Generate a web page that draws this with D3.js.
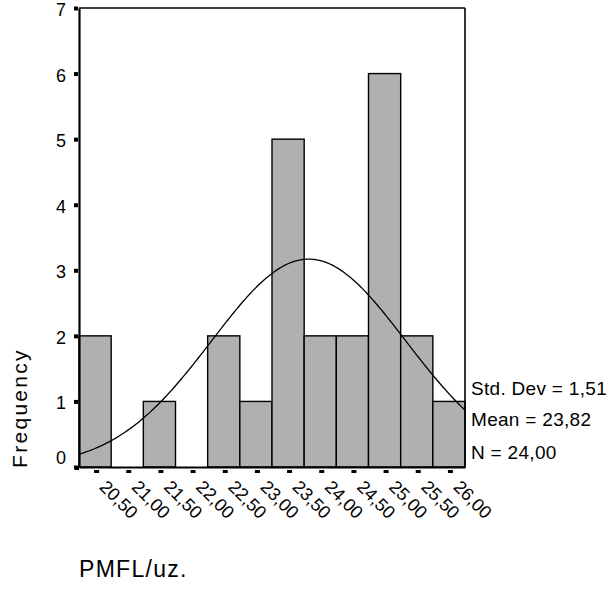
<!DOCTYPE html>
<html>
<head>
<meta charset="utf-8">
<script src="https://cdn.jsdelivr.net/npm/d3@7"></script>
<style>
  html, body { margin: 0; padding: 0; background: #fff; }
  svg { display: block; }
  text { font-family: Arial, "Liberation Sans", sans-serif; fill: #000; }
</style>
</head>
<body>
<div id="chart"></div>
<script>
// ---- data ----
const binCenters = [20.5, 21.0, 21.5, 22.0, 22.5, 23.0, 23.5, 24.0, 24.5, 25.0, 25.5, 26.0];
const binLabels = ["20,50", "21,00", "21,50", "22,00", "22,50", "23,00", "23,50", "24,00", "24,50", "25,00", "25,50", "26,00"];
const frequencies = [2, 0, 1, 0, 2, 1, 5, 2, 2, 6, 2, 1];
const yTicks = [0, 1, 2, 3, 4, 5, 6, 7];
const statLabels = ["Std. Dev = 1,51", "Mean = 23,82", "N = 24,00"];
const stdDev = 1.51;
const mean = 23.82;
const nCount = 24;
const binWidth = 0.5;

// ---- layout ----
const W = 613, H = 589;
const plot = { left: 79, right: 465, top: 8, bottom: 467 };
const FONT = "Arial, 'Liberation Sans', sans-serif";

const svg = d3.select("#chart").append("svg").attr("width", W).attr("height", H);

const x = d3.scaleLinear()
  .domain([binCenters[0] - binWidth / 2, binCenters[binCenters.length - 1] + binWidth / 2])
  .range([plot.left, plot.right]);
const y = d3.scaleLinear().domain([0, 7]).range([plot.bottom, plot.top]);

// bars
svg.append("g").selectAll("rect")
  .data(frequencies.map((f, i) => ({ f, c: binCenters[i] })).filter(d => d.f > 0))
  .join("rect")
  .attr("x", d => x(d.c - binWidth / 2))
  .attr("y", d => y(d.f))
  .attr("width", d => x(d.c + binWidth / 2) - x(d.c - binWidth / 2))
  .attr("height", d => y(0) - y(d.f))
  .attr("fill", "#b0b0b0")
  .attr("stroke", "#000")
  .attr("stroke-width", 1.4);

// normal curve fitted from the stats
const xs = d3.range(0, 201).map(i => x.domain()[0] + (x.domain()[1] - x.domain()[0]) * i / 200);
const pdf = v => nCount * binWidth / (stdDev * Math.sqrt(2 * Math.PI)) * Math.exp(-0.5 * Math.pow((v - mean) / stdDev, 2));
svg.append("path")
  .datum(xs)
  .attr("d", d3.line().x(d => x(d)).y(d => y(pdf(d))))
  .attr("fill", "none")
  .attr("stroke", "#000")
  .attr("stroke-width", 1.3);

// frame: top & right
svg.append("line").attr("x1", plot.left).attr("x2", plot.right).attr("y1", plot.top).attr("y2", plot.top)
  .attr("stroke", "#000").attr("stroke-width", 1.6);
svg.append("line").attr("x1", plot.right).attr("x2", plot.right).attr("y1", plot.top).attr("y2", plot.bottom)
  .attr("stroke", "#000").attr("stroke-width", 1.6);

// y axis
const yAxis = svg.append("g").attr("transform", `translate(${plot.left},0)`)
  .call(d3.axisLeft(y).tickValues(yTicks).tickSize(0).tickPadding(12).tickFormat(d3.format("d")));
yAxis.select(".domain").attr("stroke", "#000").attr("stroke-width", 2.2);
yAxis.selectAll(".tick text")
  .attr("font-size", 18)
  .attr("font-family", FONT)
  .attr("x", -13)
  .attr("dy", d => d === 0 ? "-0.22em" : "0.42em");
yAxis.selectAll(".tick").append("rect")
  .attr("x", -5).attr("y", -2).attr("width", 4).attr("height", 4).attr("fill", "#000");

// x axis
const xAxis = svg.append("g").attr("transform", `translate(0,${plot.bottom})`)
  .call(d3.axisBottom(x).tickValues(binCenters).tickSize(0).tickFormat((d, i) => binLabels[i]));
xAxis.select(".domain").attr("stroke", "#000").attr("stroke-width", 2.2);
xAxis.selectAll(".tick").append("rect")
  .attr("x", -1.5).attr("y", 3).attr("width", 5).attr("height", 3).attr("fill", "#000");
xAxis.selectAll(".tick text")
  .attr("font-size", 18)
  .attr("font-family", FONT)
  .attr("text-anchor", "start")
  .attr("dy", null)
  .attr("y", 0)
  .attr("transform", "translate(3,21) rotate(45)");

// corner square
svg.append("rect").attr("x", plot.left - 4).attr("y", plot.bottom - 1).attr("width", 4).attr("height", 4).attr("fill", "#000");

// stats text
const statY = [395, 426, 459];
svg.append("g").selectAll("text").data(statLabels).join("text")
  .attr("x", 471).attr("y", (d, i) => statY[i])
  .attr("font-size", 19)
  .attr("letter-spacing", 0.3)
  .text(d => d);

// axis titles
svg.append("text")
  .attr("transform", `translate(27,468) rotate(-90)`)
  .attr("text-anchor", "start")
  .attr("font-size", 21)
  .attr("letter-spacing", 2.3)
  .text("Frequency");
svg.append("text")
  .attr("x", 79).attr("y", 577)
  .attr("font-size", 23)
  .attr("letter-spacing", 1.3)
  .text("PMFL/uz.");
</script>
</body>
</html>
